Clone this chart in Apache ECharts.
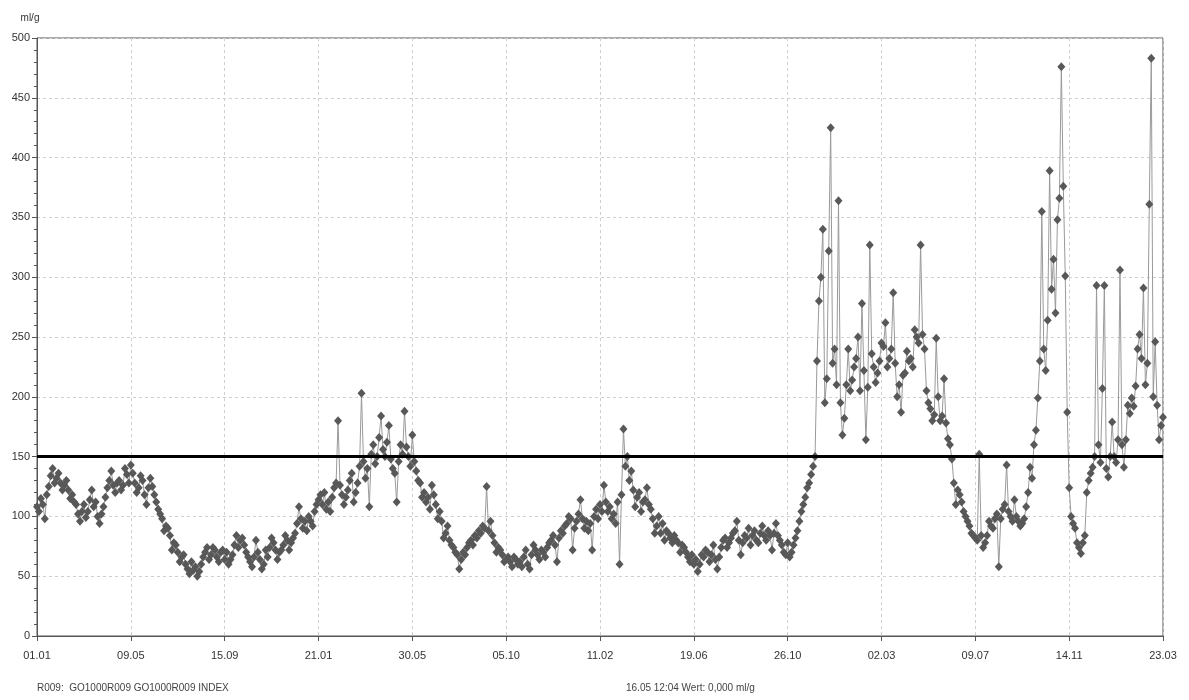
<!DOCTYPE html>
<html>
<head>
<meta charset="utf-8">
<script src="https://cdn.jsdelivr.net/npm/echarts@6/dist/echarts.min.js"></script>
<style>
  html, body { margin: 0; padding: 0; background: #fff; }
  #chart { width: 1189px; height: 700px; }
</style>
</head>
<body>
<div id="chart"></div>
<script>
const chart = echarts.init(document.getElementById("chart"));

// tick labels along the x axis, one every STEP samples
const TICK_LABELS = ["01.01", "09.05", "15.09", "21.01", "30.05", "05.10", "11.02",
  "19.06", "26.10", "02.03", "09.07", "14.11", "23.03"];
const STEP = 48;

const VALUES = [
  108, 104, 115, 110, 98, 118, 125, 134, 140, 128, 132, 136, 128, 122, 126, 130, 122, 115, 118, 112, 110, 102, 96, 104,
  110, 99, 104, 114, 122, 108, 112, 100, 94, 102, 108, 116, 124, 130, 138, 126, 120, 128, 130, 122, 126, 140, 135, 128, 143,
  136, 128, 120, 124, 134, 130, 118, 110, 124, 132, 125, 118, 112, 106, 102, 98, 88, 92, 90, 84, 72, 78, 76, 70,
  62, 66, 68, 60, 56, 52, 62, 55, 58, 50, 54, 60, 66, 70, 74, 64, 68, 74, 72, 66, 62, 70, 72, 64,
  70, 60, 64, 68, 76, 84, 74, 80, 82, 76, 70, 66, 62, 58, 66, 80, 70, 64, 56, 60, 72, 66, 74, 82,
  78, 72, 64, 70, 72, 76, 84, 80, 72, 78, 82, 86, 94, 108, 98, 90, 96, 88, 100, 96, 92, 104, 110, 114,
  118, 110, 120, 106, 112, 104, 116, 124, 128, 180, 126, 118, 110, 116, 122, 130, 136, 112, 120, 128, 142, 203, 146, 132,
  140, 108, 152, 160, 144, 150, 166, 184, 156, 150, 162, 176, 148, 140, 136, 112, 146, 160, 152, 188, 158, 150, 142, 168,
  146, 138, 130, 128, 116, 120, 112, 116, 106, 126, 118, 110, 98, 104, 96, 82, 86, 92, 80, 76, 74, 70, 68, 56,
  64, 70, 68, 74, 78, 80, 76, 84, 82, 88, 86, 92, 90, 125, 88, 96, 84, 78, 70, 74, 72, 68, 62, 64,
  66, 62, 58, 66, 64, 60, 62, 58, 66, 72, 60, 56, 68, 76, 72, 68, 64, 72, 70, 66, 74, 78, 80, 84,
  76, 62, 82, 88, 86, 92, 94, 100, 98, 72, 90, 96, 102, 114, 98, 90, 96, 88, 94, 72, 100, 106, 98, 110,
  104, 126, 112, 104, 108, 98, 102, 94, 112, 60, 118, 173, 142, 150, 130, 138, 122, 108, 116, 120, 104, 112, 114, 124,
  110, 106, 98, 86, 92, 100, 86, 94, 80, 88, 86, 82, 78, 84, 80, 78, 70, 76, 74, 70, 66, 62, 68, 60,
  64, 54, 60, 68, 66, 72, 70, 62, 68, 76, 64, 56, 66, 74, 80, 82, 74, 78, 82, 86, 88, 96, 80, 68,
  78, 84, 82, 90, 76, 84, 88, 80, 78, 86, 92, 84, 80, 88, 84, 72, 86, 94, 84, 80, 76, 70, 68, 78,
  66, 70, 76, 82, 88, 96, 104, 110, 116, 124, 128, 135, 142, 150, 230, 280, 300, 340, 195, 215, 322, 425, 228, 240,
  210, 364, 195, 168, 182, 210, 240, 205, 214, 225, 232, 250, 205, 278, 222, 164, 208, 327, 236, 225, 212, 220, 230, 245,
  242, 262, 225, 232, 240, 287, 228, 200, 210, 187, 218, 220, 238, 230, 232, 225, 256, 250, 245, 327, 252, 240, 205, 195,
  190, 180, 185, 249, 200, 180, 184, 215, 178, 165, 160, 148, 128, 110, 122, 118, 112, 104, 100, 96, 92, 86, 84, 82,
  80, 152, 84, 74, 78, 84, 96, 92, 90, 98, 102, 58, 98, 106, 110, 143, 104, 100, 96, 114, 100, 96, 92, 94,
  98, 108, 120, 141, 132, 160, 172, 199, 230, 355, 240, 222, 264, 389, 290, 315, 270, 348, 366, 476, 376, 301, 187, 124,
  100, 94, 90, 78, 74, 69, 78, 84, 120, 130, 136, 141, 150, 293, 160, 145, 207, 293, 140, 133, 150, 179, 150, 145,
  164, 306, 160, 141, 164, 193, 186, 199, 192, 209, 240, 252, 232, 291, 210, 228, 361, 483, 200, 246, 193, 164, 176, 183
];

const LIMIT = 150;
const UNIT = "ml/g";
const FOOTER_LEFT = "R009:  GO1000R009 GO1000R009 INDEX";
const FOOTER_RIGHT = "16.05 12:04 Wert: 0,000 ml/g";

const categories = VALUES.map((_, i) => (i % STEP === 0 ? TICK_LABELS[i / STEP] : ""));

const FONT = "Liberation Sans, Arial, sans-serif";

chart.setOption({
  animation: false,
  grid: {
    left: 37,
    right: 26,
    top: 38,
    bottom: 64,
    show: true,
    borderColor: "#555",
    borderWidth: 1
  },
  xAxis: {
    type: "category",
    data: categories,
    boundaryGap: false,
    axisLine: { lineStyle: { color: "#555", width: 1 } },
    axisTick: { interval: STEP - 1, length: 5, lineStyle: { color: "#555" } },
    axisLabel: {
      interval: STEP - 1,
      margin: 14,
      color: "#333",
      fontSize: 11,
      fontFamily: FONT
    },
    splitLine: {
      show: true,
      interval: STEP - 1,
      lineStyle: { color: "#cfcfcf", type: [3, 3] }
    }
  },
  yAxis: {
    type: "value",
    min: 0,
    max: 500,
    interval: 50,
    name: UNIT,
    nameGap: 15,
    nameTextStyle: { color: "#333", fontSize: 10, fontFamily: FONT, padding: [0, 14, 0, 0] },
    axisLine: { show: true, lineStyle: { color: "#555", width: 1 } },
    axisTick: { show: true, length: 5, lineStyle: { color: "#555" } },
    minorTick: { show: true, splitNumber: 5, length: 3, lineStyle: { color: "#555" } },
    axisLabel: { margin: 7, color: "#333", fontSize: 11, fontFamily: FONT },
    splitLine: { show: true, lineStyle: { color: "#cfcfcf", type: [3, 3] } }
  },
  series: [
    {
      type: "line",
      data: VALUES,
      symbol: "diamond",
      symbolSize: [8, 9],
      showAllSymbol: true,
      itemStyle: { color: "#585858" },
      lineStyle: { color: "#999", width: 1 },
      markLine: {
        silent: true,
        symbol: "none",
        label: { show: false },
        lineStyle: { color: "#000", width: 3, type: "solid" },
        data: [{ yAxis: LIMIT }]
      }
    }
  ],
  graphic: [
    {
      type: "text",
      left: 37,
      top: 683,
      style: { text: FOOTER_LEFT, fill: "#444", font: "10px " + FONT }
    },
    {
      type: "text",
      left: 626,
      top: 683,
      style: { text: FOOTER_RIGHT, fill: "#444", font: "10px " + FONT }
    }
  ]
});
</script>
</body>
</html>
